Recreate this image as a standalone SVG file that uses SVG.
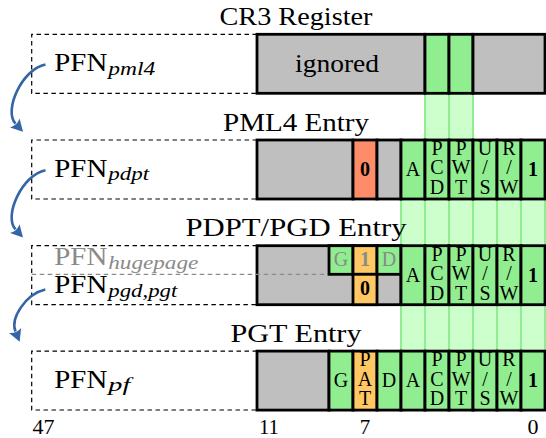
<svg xmlns="http://www.w3.org/2000/svg" width="546" height="438" viewBox="0 0 546 438" font-family="'Liberation Serif', 'DejaVu Serif', serif">
<style>
text{font-family:'Liberation Serif','DejaVu Serif',serif;fill:#000}
.title{font-size:26px;text-anchor:middle}
.pfn{font-size:26px}
.sub{font-size:18px;font-style:italic}
.cell{font-size:20px;text-anchor:middle}
.b{font-weight:bold}
.gt{fill:#8a8a8a}
.dash{fill:none;stroke:#000;stroke-width:1.2;stroke-dasharray:4.5 3.5}
.gdash{fill:none;stroke:#8a8a8a;stroke-width:1.2;stroke-dasharray:4.5 3.5}
.gray{fill:#bfbfbf;stroke:#000;stroke-width:2.8}
.grn{fill:#90ee90;stroke:#000;stroke-width:2.8}
.red{fill:#ff8c69;stroke:#000;stroke-width:2.8}
.org{fill:#ffc864;stroke:#000;stroke-width:2.8}
.band{fill:#ccffcc;stroke:#90ee90;stroke-width:2}
.arrow{fill:none;stroke:#3465a4;stroke-width:2.6;marker-end:url(#ah)}
.num{font-size:22px;text-anchor:middle}
</style>
<defs>
<marker id="ah" markerUnits="userSpaceOnUse" markerWidth="16" markerHeight="16" refX="0" refY="0" viewBox="-2 -8 16 16" orient="auto">
<path d="M11,0 L-1,-6.5 Q2.5,0 -1,6.5 Z" fill="#3465a4"/>
</marker>
</defs>

<g id="bands">
<rect class="band" x="425" y="93" width="24" height="258"/>
<rect class="band" x="449" y="93" width="24" height="258"/>
<rect class="band" x="401" y="199" width="24" height="152"/>
<rect class="band" x="473" y="199" width="24" height="152"/>
<rect class="band" x="497" y="199" width="24" height="152"/>
<rect class="band" x="521" y="199" width="24" height="152"/>
</g>

<g id="cr3">
<text class="title" x="296" y="25" textLength="153" lengthAdjust="spacingAndGlyphs">CR3 Register</text>
<path class="dash" d="M257,34.3 H31.7 V93.3 H257"/>
<rect class="gray" x="257" y="34.3" width="168" height="59"/>
<rect class="grn" x="425" y="34.3" width="24" height="59"/>
<rect class="grn" x="449" y="34.3" width="24" height="59"/>
<rect class="gray" x="473" y="34.3" width="72" height="59"/>
<text x="337" y="72" font-size="26" text-anchor="middle" textLength="84" lengthAdjust="spacingAndGlyphs">ignored</text>
<text class="pfn" x="54.3" y="70.7"><tspan textLength="53" lengthAdjust="spacingAndGlyphs">PFN</tspan><tspan class="sub" x="108.3" y="74.5" textLength="47" lengthAdjust="spacingAndGlyphs">pml4</tspan></text>
</g>

<g id="pml4">
<text class="title" x="296" y="130.7" textLength="146" lengthAdjust="spacingAndGlyphs">PML4 Entry</text>
<path class="dash" d="M257,140 H31.7 V199 H257"/>
<rect class="gray" x="257" y="140" width="96" height="59"/>
<rect class="red" x="353" y="140" width="24" height="59"/>
<rect class="gray" x="377" y="140" width="24" height="59"/>
<rect class="grn" x="401" y="140" width="24" height="59"/>
<rect class="grn" x="425" y="140" width="24" height="59"/>
<rect class="grn" x="449" y="140" width="24" height="59"/>
<rect class="grn" x="473" y="140" width="24" height="59"/>
<rect class="grn" x="497" y="140" width="24" height="59"/>
<rect class="grn" x="521" y="140" width="24" height="59"/>
<text class="cell b" x="365" y="176">0</text>
<text class="cell" x="413" y="176">A</text>
<text class="cell" x="437"><tspan x="437" y="155">P</tspan><tspan x="437" y="174.4">C</tspan><tspan x="437" y="193.8">D</tspan></text>
<text class="cell" x="461"><tspan x="461" y="155">P</tspan><tspan x="461" y="174.4">W</tspan><tspan x="461" y="193.8">T</tspan></text>
<text class="cell" x="485"><tspan x="485" y="155">U</tspan><tspan x="485" y="174.4">/</tspan><tspan x="485" y="193.8">S</tspan></text>
<text class="cell" x="509"><tspan x="509" y="155">R</tspan><tspan x="509" y="174.4">/</tspan><tspan x="509" y="193.8">W</tspan></text>
<text class="cell b" x="533" y="176">1</text>
<text class="pfn" x="54.3" y="176.5"><tspan textLength="53" lengthAdjust="spacingAndGlyphs">PFN</tspan><tspan class="sub" x="108.3" y="180.3" textLength="41" lengthAdjust="spacingAndGlyphs">pdpt</tspan></text>
</g>

<g id="pdpt">
<text class="title" x="296" y="236.4" textLength="221" lengthAdjust="spacingAndGlyphs">PDPT/PGD Entry</text>
<path class="dash" d="M257,245.7 H31.7 V304.7 H257"/>
<rect class="gray" x="257" y="245.7" width="144" height="59"/>
<path class="gdash" d="M31.7,274.3 H329"/>
<rect class="grn" x="329" y="245.7" width="24" height="28.6"/>
<rect class="org" x="353" y="245.7" width="24" height="28.6"/>
<rect class="grn" x="377" y="245.7" width="24" height="28.6"/>
<rect class="org" x="353" y="274.3" width="24" height="30.4"/>
<rect class="grn" x="401" y="245.7" width="24" height="59"/>
<rect class="grn" x="425" y="245.7" width="24" height="59"/>
<rect class="grn" x="449" y="245.7" width="24" height="59"/>
<rect class="grn" x="473" y="245.7" width="24" height="59"/>
<rect class="grn" x="497" y="245.7" width="24" height="59"/>
<rect class="grn" x="521" y="245.7" width="24" height="59"/>
<text class="cell gt" x="341" y="266">G</text>
<text class="cell gt b" x="365" y="266">1</text>
<text class="cell gt" x="389" y="266">D</text>
<text class="cell b" x="365" y="294.5">0</text>
<text class="cell" x="413" y="281.7">A</text>
<text class="cell" x="437"><tspan x="437" y="260.7">P</tspan><tspan x="437" y="280.1">C</tspan><tspan x="437" y="299.5">D</tspan></text>
<text class="cell" x="461"><tspan x="461" y="260.7">P</tspan><tspan x="461" y="280.1">W</tspan><tspan x="461" y="299.5">T</tspan></text>
<text class="cell" x="485"><tspan x="485" y="260.7">U</tspan><tspan x="485" y="280.1">/</tspan><tspan x="485" y="299.5">S</tspan></text>
<text class="cell" x="509"><tspan x="509" y="260.7">R</tspan><tspan x="509" y="280.1">/</tspan><tspan x="509" y="299.5">W</tspan></text>
<text class="cell b" x="533" y="281.7">1</text>
<text class="pfn gt" x="54.3" y="265"><tspan textLength="53" lengthAdjust="spacingAndGlyphs">PFN</tspan><tspan class="sub gt" x="108.3" y="268.8" textLength="90" lengthAdjust="spacingAndGlyphs">hugepage</tspan></text>
<text class="pfn" x="54.3" y="293.3"><tspan textLength="53" lengthAdjust="spacingAndGlyphs">PFN</tspan><tspan class="sub" x="108.3" y="297.1" textLength="69" lengthAdjust="spacingAndGlyphs">pgd,pgt</tspan></text>
</g>

<g id="pgt">
<text class="title" x="296" y="342" textLength="131" lengthAdjust="spacingAndGlyphs">PGT Entry</text>
<path class="dash" d="M257,351.1 H31.7 V410 H257"/>
<rect class="gray" x="257" y="351.1" width="72" height="59"/>
<rect class="grn" x="329" y="351.1" width="24" height="59"/>
<rect class="org" x="353" y="351.1" width="24" height="59"/>
<rect class="grn" x="377" y="351.1" width="24" height="59"/>
<rect class="grn" x="401" y="351.1" width="24" height="59"/>
<rect class="grn" x="425" y="351.1" width="24" height="59"/>
<rect class="grn" x="449" y="351.1" width="24" height="59"/>
<rect class="grn" x="473" y="351.1" width="24" height="59"/>
<rect class="grn" x="497" y="351.1" width="24" height="59"/>
<rect class="grn" x="521" y="351.1" width="24" height="59"/>
<text class="cell" x="341" y="387.1">G</text>
<text class="cell" x="365"><tspan x="365" y="366.1">P</tspan><tspan x="365" y="385.5">A</tspan><tspan x="365" y="404.9">T</tspan></text>
<text class="cell" x="389" y="387.1">D</text>
<text class="cell" x="413" y="387.1">A</text>
<text class="cell" x="437"><tspan x="437" y="366.1">P</tspan><tspan x="437" y="385.5">C</tspan><tspan x="437" y="404.9">D</tspan></text>
<text class="cell" x="461"><tspan x="461" y="366.1">P</tspan><tspan x="461" y="385.5">W</tspan><tspan x="461" y="404.9">T</tspan></text>
<text class="cell" x="485"><tspan x="485" y="366.1">U</tspan><tspan x="485" y="385.5">/</tspan><tspan x="485" y="404.9">S</tspan></text>
<text class="cell" x="509"><tspan x="509" y="366.1">R</tspan><tspan x="509" y="385.5">/</tspan><tspan x="509" y="404.9">W</tspan></text>
<text class="cell b" x="533" y="387.1">1</text>
<text class="pfn" x="54.3" y="387.5"><tspan textLength="53" lengthAdjust="spacingAndGlyphs">PFN</tspan><tspan class="sub" x="108.3" y="391.3" textLength="22" lengthAdjust="spacingAndGlyphs">pf</tspan></text>
</g>

<g id="bits">
<text class="num" x="43.5" y="433.5" textLength="22" lengthAdjust="spacingAndGlyphs">47</text>
<text class="num" x="269" y="433.5" textLength="20" lengthAdjust="spacingAndGlyphs">11</text>
<text class="num" x="365" y="433.5" textLength="10.5" lengthAdjust="spacingAndGlyphs">7</text>
<text class="num" x="533" y="433.5" textLength="11" lengthAdjust="spacingAndGlyphs">0</text>
</g>

<g id="connectors">
<path class="arrow" d="M45.5,64.5 C22,69 3.3,110.6 15.5,123.7"/>
<path class="arrow" d="M45.5,170.2 C22,174.7 3.3,216.3 15.5,229.4"/>
<path class="arrow" d="M45.3,289.5 C26,294 10,318 15.5,331.5"/>
</g>
</svg>
